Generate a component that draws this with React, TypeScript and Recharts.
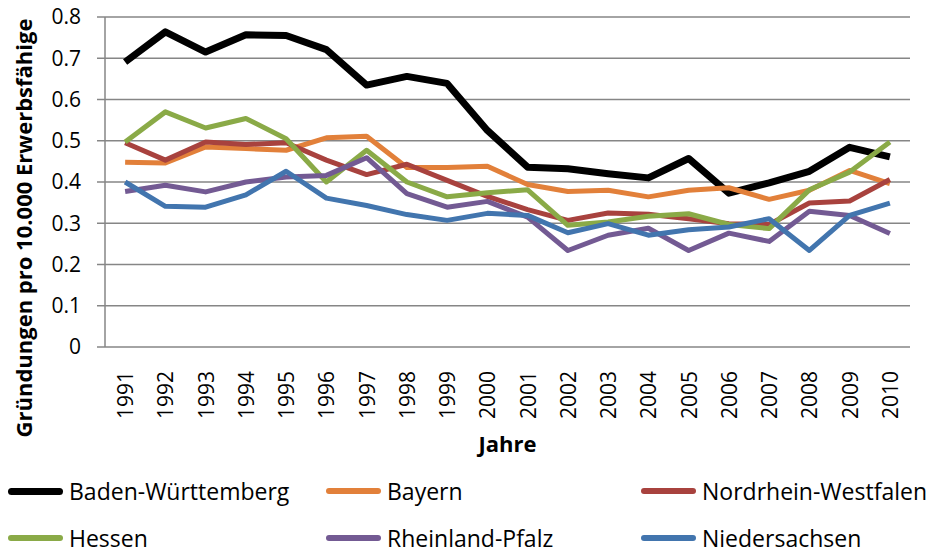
import { LineChart, Line, XAxis, YAxis, CartesianGrid } from "recharts";

const years = [1991, 1992, 1993, 1994, 1995, 1996, 1997, 1998, 1999, 2000, 2001, 2002, 2003, 2004, 2005, 2006, 2007, 2008, 2009, 2010];

const badenWuerttemberg = [0.691, 0.764, 0.715, 0.757, 0.755, 0.721, 0.635, 0.656, 0.639, 0.525, 0.436, 0.432, 0.42, 0.41, 0.457, 0.373, 0.398, 0.426, 0.484, 0.461];
const bayern = [0.448, 0.446, 0.485, 0.481, 0.477, 0.507, 0.511, 0.435, 0.435, 0.438, 0.394, 0.377, 0.38, 0.364, 0.38, 0.386, 0.358, 0.38, 0.428, 0.396];
const nordrheinWestfalen = [0.495, 0.453, 0.497, 0.491, 0.495, 0.453, 0.418, 0.443, 0.404, 0.365, 0.333, 0.307, 0.325, 0.322, 0.311, 0.299, 0.297, 0.349, 0.354, 0.406];
const hessen = [0.497, 0.57, 0.531, 0.554, 0.505, 0.4, 0.477, 0.4, 0.364, 0.374, 0.381, 0.295, 0.303, 0.317, 0.323, 0.297, 0.287, 0.381, 0.424, 0.497];
const rheinlandPfalz = [0.377, 0.392, 0.376, 0.4, 0.412, 0.416, 0.459, 0.372, 0.339, 0.353, 0.315, 0.234, 0.271, 0.288, 0.234, 0.276, 0.256, 0.329, 0.319, 0.275];
const niedersachsen = [0.4, 0.341, 0.339, 0.369, 0.426, 0.361, 0.343, 0.321, 0.307, 0.324, 0.319, 0.277, 0.299, 0.271, 0.284, 0.291, 0.311, 0.234, 0.319, 0.349];

const yTicks = [0, 0.1, 0.2, 0.3, 0.4, 0.5, 0.6, 0.7, 0.8];

const series = [
  { key: "bw", name: "Baden-Württemberg", values: badenWuerttemberg, color: "#000000", width: 7 },
  { key: "by", name: "Bayern", values: bayern, color: "#E2803A", width: 5 },
  { key: "nrw", name: "Nordrhein-Westfalen", values: nordrheinWestfalen, color: "#A8423E", width: 5 },
  { key: "he", name: "Hessen", values: hessen, color: "#8AAA47", width: 5 },
  { key: "rp", name: "Rheinland-Pfalz", values: rheinlandPfalz, color: "#735A93", width: 5 },
  { key: "ni", name: "Niedersachsen", values: niedersachsen, color: "#4275AE", width: 5 },
];

const data = years.map((year, i) => {
  const row: Record<string, number> = { idx: i + 1, year };
  series.forEach((s) => {
    row[s.key] = s.values[i];
  });
  return row;
});

const labelTicks = years.map((_, i) => i + 1);
const markTicks = [0.5, ...years.map((_, i) => i + 1.5)];

const font = "'Open Sans', 'Noto Sans', sans-serif";
const grey = "#868686";

const legendCols = [8, 326, 641];
const legendRows = [491, 538];

function YearTick(props: any) {
  const { x, y, payload } = props;
  return (
    <text
      transform={`translate(${x},${y + 16}) rotate(-90)`}
      textAnchor="end"
      dominantBaseline="central"
      fontFamily={font}
      fontSize={21}
      fill="#000"
    >
      {years[payload.value - 1]}
    </text>
  );
}

export default function App() {
  return (
    <div style={{ position: "relative", width: 934, height: 553, background: "#fff", overflow: "hidden" }}>
      <style>{"body{margin:0}"}</style>
      <LineChart width={934} height={553} data={data} margin={{ top: 17, right: 24, bottom: 91, left: 0 }}>
        <CartesianGrid horizontal vertical={false} stroke={grey} strokeWidth={1.5} xAxisId="marks" />
        <XAxis
          xAxisId="marks"
          dataKey="idx"
          type="number"
          domain={[0.5, 20.5]}
          ticks={markTicks}
          height={0}
          tick={false}
          tickSize={8}
          tickLine={{ stroke: grey, strokeWidth: 1.5 }}
          axisLine={{ stroke: grey, strokeWidth: 1.5 }}
        />
        <XAxis
          xAxisId="main"
          dataKey="idx"
          type="number"
          domain={[0.5, 20.5]}
          ticks={labelTicks}
          interval={0}
          height={115}
          tickLine={false}
          axisLine={false}
          tick={<YearTick />}
          label={{
            content: (p: any) => {
              const vb = p.viewBox;
              return (
                <text x={vb.x + vb.width / 2} y={vb.y + 105} textAnchor="middle" fontFamily={font} fontSize={22} fontWeight="bold" fill="#000">
                  Jahre
                </text>
              );
            },
          }}
        />
        <YAxis
          domain={[0, 0.8]}
          ticks={yTicks}
          width={105}
          tickSize={8}
          tickMargin={16}
          tickFormatter={(v: number) => (v === 0 ? "0" : v.toFixed(1))}
          tick={{ fontFamily: font, fontSize: 21, fill: "#000" }}
          tickLine={{ stroke: grey, strokeWidth: 1.5 }}
          axisLine={{ stroke: grey, strokeWidth: 1.5 }}
          label={{
            content: (p: any) => {
              const vb = p.viewBox;
              const cx = 23;
              const cy = vb.y + vb.height / 2 + 46;
              return (
                <text
                  transform={`translate(${cx},${cy}) rotate(-90)`}
                  textAnchor="middle"
                  dominantBaseline="central"
                  fontFamily={font}
                  fontSize={22}
                  fontWeight="bold"
                  fill="#000"
                >
                  Gründungen pro 10.000 Erwerbsfähige
                </text>
              );
            },
          }}
        />
        {series.map((s) => (
          <Line
            key={s.key}
            xAxisId="main"
            dataKey={s.key}
            name={s.name}
            stroke={s.color}
            strokeWidth={s.width}
            dot={false}
            activeDot={false}
            strokeLinejoin="round"
            isAnimationActive={false}
          />
        ))}
      </LineChart>
      {series.map((s, i) => (
        <div
          key={s.key}
          style={{
            position: "absolute",
            left: legendCols[i % 3],
            top: legendRows[Math.floor(i / 3)] - 13,
            height: 26,
            lineHeight: "26px",
            display: "flex",
            alignItems: "center",
            fontFamily: font,
            fontSize: 23,
            color: "#000",
            whiteSpace: "nowrap",
          }}
        >
          <span style={{ display: "inline-block", width: 55, height: i === 0 ? 7 : 6, borderRadius: 4, background: s.color, marginRight: 6 }} />
          {s.name}
        </div>
      ))}
    </div>
  );
}
